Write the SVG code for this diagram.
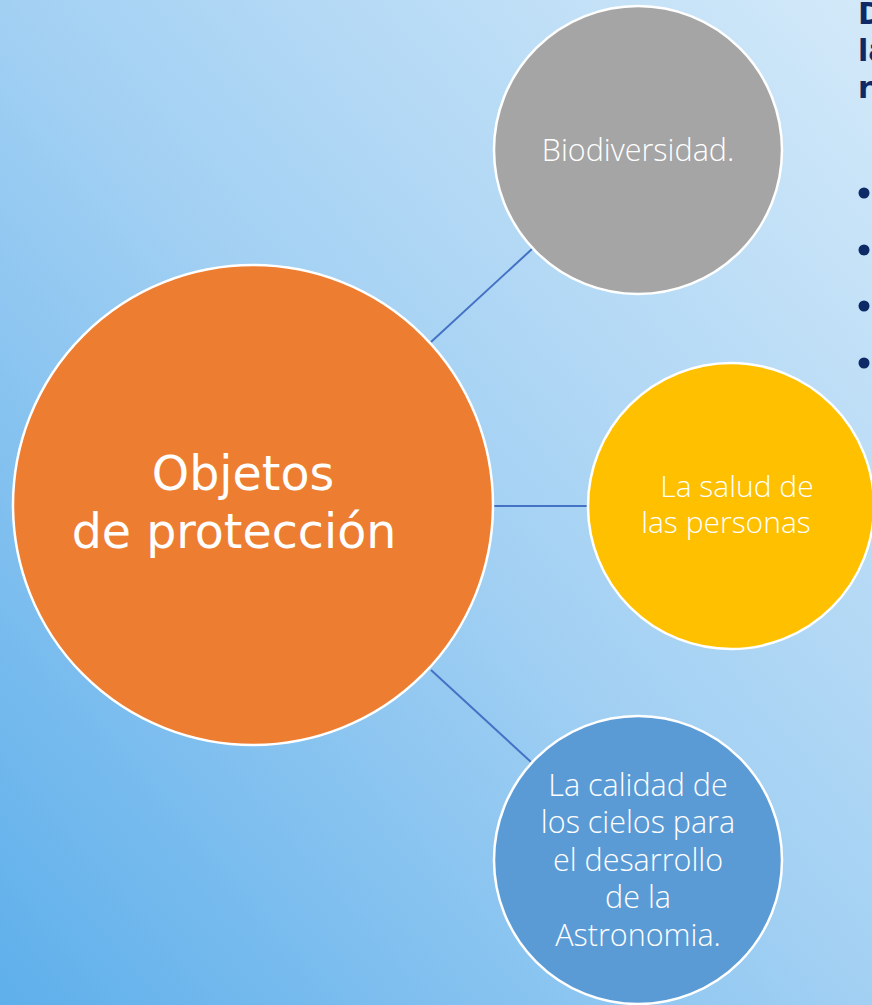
<svg xmlns="http://www.w3.org/2000/svg" width="872" height="1005" viewBox="0 0 872 1005">
  <defs>
    <linearGradient id="bg" x1="0" y1="1" x2="1" y2="0">
      <stop offset="0" stop-color="#5eafeb"/>
      <stop offset="0.5" stop-color="#a2d0f3"/>
      <stop offset="1" stop-color="#d3e9f9"/>
    </linearGradient>
  </defs>
  <style>
    .node { stroke: #ffffff; stroke-width: 2.5; }
    .lbl { font-family: "Open Sans", "Liberation Sans", sans-serif; font-weight: 300; fill: #ffffff; text-anchor: middle; }
    .main { font-family: "DejaVu Sans", Verdana, sans-serif; fill: #ffffff; text-anchor: middle; font-size: 47.5px; }
    .conn { stroke: #4472c4; stroke-width: 2; fill: none; }
    .side { font-family: "DejaVu Sans", Verdana, sans-serif; font-weight: bold; fill: #0e2a66; font-size: 30px; }
  </style>
  <rect x="0" y="0" width="872" height="1005" fill="url(#bg)"/>

  <g id="side-text">
    <text class="side" x="858" y="24">D</text>
    <text class="side" x="858" y="61">la</text>
    <text class="side" x="858" y="98">r</text>
    <circle cx="864" cy="193" r="5.5" fill="#0e2a66"/>
    <circle cx="864" cy="250" r="5.5" fill="#0e2a66"/>
    <circle cx="864" cy="306" r="5.5" fill="#0e2a66"/>
    <circle cx="864" cy="363" r="5.5" fill="#0e2a66"/>
  </g>

  <g id="connectors">
    <line class="conn" x1="431" y1="342" x2="532" y2="249"/>
    <line class="conn" x1="493" y1="506" x2="590" y2="506"/>
    <line class="conn" x1="431" y1="670" x2="531" y2="762"/>
  </g>

  <g id="node-main">
    <circle class="node" cx="253" cy="505" r="240" fill="#ed7d31"/>
    <text class="main" x="243" y="490">Objetos</text>
    <text class="main" x="234" y="548">de protección</text>
  </g>

  <g id="node-biodiversidad">
    <circle class="node" cx="638" cy="150" r="144" fill="#a5a5a5"/>
    <text class="lbl" x="638" y="161" font-size="30.5">Biodiversidad.</text>
  </g>

  <g id="node-salud">
    <circle class="node" cx="731" cy="506" r="143" fill="#ffc000"/>
    <text class="lbl" x="737" y="497" font-size="30">La salud de</text>
    <text class="lbl" x="726" y="533" font-size="30">las personas</text>
  </g>

  <g id="node-calidad">
    <circle class="node" cx="638" cy="860" r="144" fill="#5b9bd5"/>
    <text class="lbl" x="638" y="796" font-size="30.5">La calidad de</text>
    <text class="lbl" x="638" y="833" font-size="30.5">los cielos para</text>
    <text class="lbl" x="638" y="871" font-size="30.5">el desarrollo</text>
    <text class="lbl" x="638" y="908" font-size="30.5">de la</text>
    <text class="lbl" x="638" y="946" font-size="30.5">Astronomia.</text>
  </g>
</svg>
